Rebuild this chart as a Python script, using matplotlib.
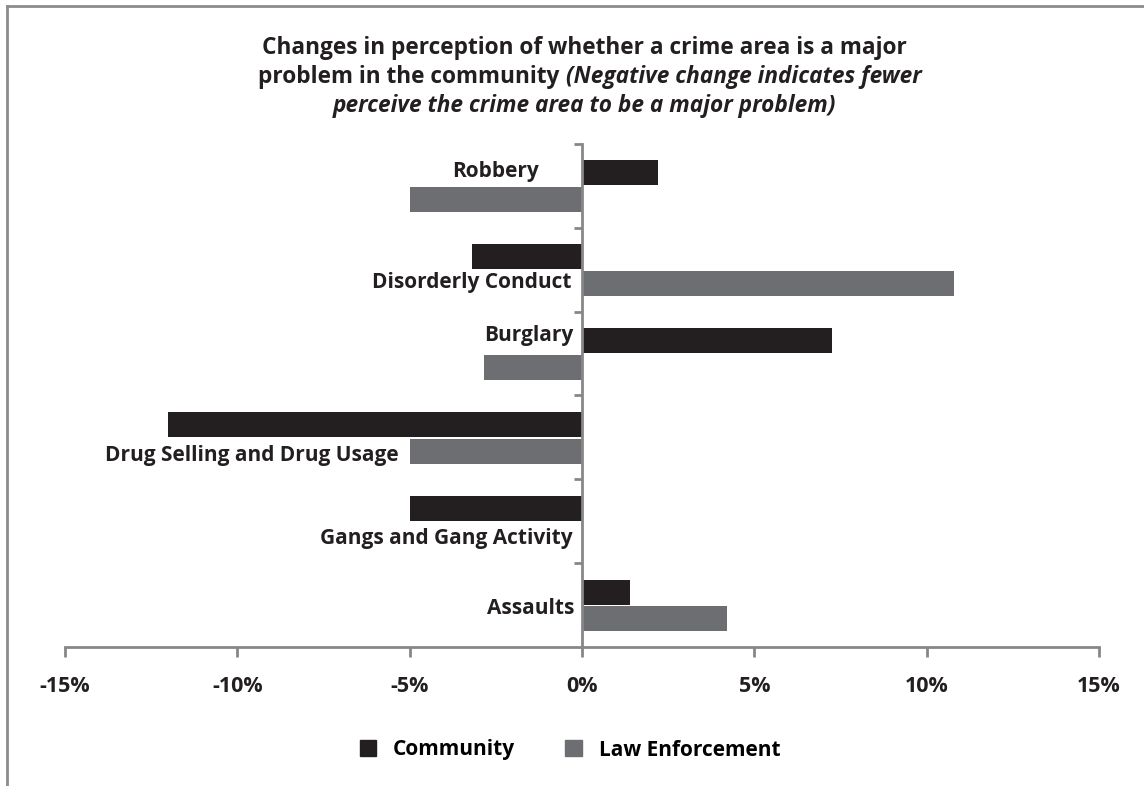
import matplotlib
matplotlib.use('Agg')
import matplotlib.pyplot as plt
import numpy as np
from matplotlib.lines import Line2D
from matplotlib.patches import Patch

plt.rcParams['font.family'] = ['Open Sans', 'DejaVu Sans']

# data (percentage change), top to bottom
categories = ['Robbery', 'Disorderly Conduct', 'Burglary',
              'Drug Selling and Drug Usage', 'Gangs and Gang Activity', 'Assaults']
community = [2.2, -3.2, 7.25, -12.0, -5.0, 1.4]
law_enforcement = [-5.0, 10.8, -2.85, -5.0, 0.0, 4.2]
x_ticks = [-15, -10, -5, 0, 5, 10, 15]
series_names = ['Community', 'Law Enforcement']

# where excel dropped the category labels (right edge x, y offset from row centre)
label_x = [-1.25, -0.3, -0.26, -5.33, -0.26, -0.23]
label_dy = [-0.17, 0.15, -0.21, 0.22, 0.21, 0.04]

DARK = '#231f20'
GREY = '#6d6e71'
AXIS = '#878787'

W, H = 1144, 786
fig = plt.figure(figsize=(W / 100, H / 100), dpi=100)
ax = fig.add_axes([65 / W, 1 - 647 / H, (1099 - 65) / W, (647 - 144) / H])

y = np.arange(len(categories))
bh = 0.3
ax.barh(y - 0.155, community, height=bh, color=DARK, label=series_names[0])
ax.barh(y + 0.165, law_enforcement, height=bh, color=GREY, label=series_names[1])

ax.set_xlim(-15, 15)
ax.set_ylim(len(categories) - 0.5, -0.5)
ax.set_xticks(x_ticks)
ax.set_xticklabels([f'{t}%' for t in x_ticks], fontsize=15.5, fontweight='bold', color=DARK)
ax.set_yticks(np.arange(len(categories)) - 0.5)
ax.set_yticklabels([])

for s in ['top', 'right']:
    ax.spines[s].set_visible(False)
ax.spines['left'].set_position(('data', 0))
for s in ['left', 'bottom']:
    ax.spines[s].set_color(AXIS)
    ax.spines[s].set_linewidth(2)
ax.tick_params(axis='x', direction='out', length=7, width=2, color=AXIS, pad=14)
ax.tick_params(axis='y', direction='out', length=6, width=2, color=AXIS)

for i, name in enumerate(categories):
    ax.text(label_x[i], y[i] + label_dy[i], name, ha='right', va='center',
            fontsize=15, fontweight='bold', color=DARK)

# title, mixed bold / bold italic
fs = 16.3
cx = 584 / W
fig.text(cx, 1 - 48 / H, 'Changes in perception of whether a crime area is a major',
         ha='center', va='center', fontsize=fs, fontweight='bold', color=DARK)
renderer = fig.canvas.get_renderer()
t1 = fig.text(0, 1 - 77 / H, 'problem in the community ', ha='left', va='center',
              fontsize=fs, fontweight='bold', color=DARK)
t2 = fig.text(0, 1 - 77 / H, '(Negative change indicates fewer', ha='left', va='center',
              fontsize=fs, fontweight='bold', style='italic', color=DARK)
w1 = t1.get_window_extent(renderer).width
w2 = t2.get_window_extent(renderer).width
x0 = 590 - (w1 + w2) / 2
t1.set_x(x0 / W)
t2.set_x((x0 + w1) / W)
fig.text(cx, 1 - 106 / H, 'perceive the crime area to be a major problem)',
         ha='center', va='center', fontsize=fs, fontweight='bold', style='italic', color=DARK)

handles = [Patch(color=DARK), Patch(color=GREY)]
fig.legend(handles, series_names, loc='center', bbox_to_anchor=(570 / W, 1 - 750 / H),
           ncol=2, frameon=False, prop={'size': 15, 'weight': 'bold'},
           handlelength=0.8, handleheight=0.8, columnspacing=2.4, handletextpad=0.8)

# cropped outer chart border
fig.add_artist(Line2D([7 / W, 1], [1 - 6 / H, 1 - 6 / H], transform=fig.transFigure,
                      color='#8c8c8c', lw=2))
fig.add_artist(Line2D([7 / W, 7 / W], [0, 1 - 6 / H], transform=fig.transFigure,
                      color='#8c8c8c', lw=2))

fig.savefig('out.png', dpi=100, facecolor='white')
